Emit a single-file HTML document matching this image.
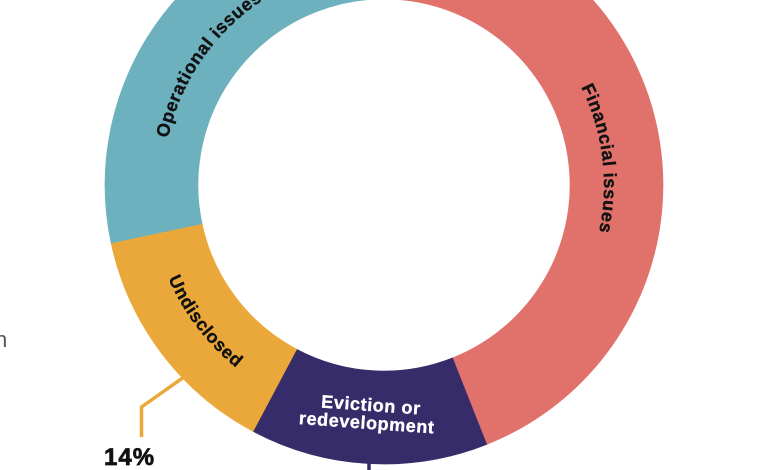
<!DOCTYPE html>
<html>
<head>
<meta charset="utf-8">
<style>
  html, body { margin: 0; padding: 0; background: #ffffff; }
  body { width: 770px; height: 470px; overflow: hidden; }
  svg { display: block; }
  .lbl { font-family: "Liberation Sans", "DejaVu Sans", sans-serif; font-weight: bold; font-size: 18px; letter-spacing: 0.6px; fill: #111111; stroke: #111111; stroke-width: 0.35px; }
</style>
</head>
<body>
<svg width="770" height="470" viewBox="0 0 770 470" xmlns="http://www.w3.org/2000/svg">
  <defs>
    <path id="pOp" d="M 204.08 313.34 A 221 221 0 0 1 439.33 -28.96" fill="none"/>
    <path id="pFin" d="M 433.49 -29.36 A 220 220 0 0 1 483.88 381.02" fill="none"/>
    <path id="pUnd" d="M 167.20 94.31 A 235 235 0 0 0 413.86 418.10" fill="none"/>
  </defs>

  <!-- partial gray text at left edge -->
  <text x="-5" y="347" font-family="Liberation Sans, sans-serif" font-size="22" fill="#555555">n</text>

  <!-- Donut segments -->
  <path d="M 403.46 -93.32 A 279 279 0 0 1 486.71 444.41 L 452.47 357.94 A 186 186 0 0 0 396.97 -0.55 Z" fill="#e0726b" stroke="#e0726b" stroke-width="0.6"/>
  <path d="M 486.71 444.41 A 279 279 0 0 1 253.02 431.34 L 296.68 349.23 A 186 186 0 0 0 452.47 357.94 Z" fill="#362c6a" stroke="#362c6a" stroke-width="0.6"/>
  <path d="M 253.02 431.34 A 279 279 0 0 1 111.10 243.01 L 202.06 223.67 A 186 186 0 0 0 296.68 349.23 Z" fill="#eba83a" stroke="#eba83a" stroke-width="0.6"/>
  <path d="M 111.10 243.01 A 279 279 0 0 1 403.46 -93.32 L 396.97 -0.55 A 186 186 0 0 0 202.06 223.67 Z" fill="#6db1bf" stroke="#6db1bf" stroke-width="0.6"/>

  <!-- Curved labels -->
  <text class="lbl"><textPath href="#pOp" startOffset="50%" text-anchor="middle">Operational issues</textPath></text>
  <text class="lbl"><textPath href="#pFin" startOffset="50%" text-anchor="middle">Financial issues</textPath></text>
  <text class="lbl"><textPath href="#pUnd" startOffset="50%" text-anchor="middle">Undisclosed</textPath></text>

  <!-- Eviction label -->
  <g transform="rotate(4 370 420)" font-family="Liberation Sans, DejaVu Sans, sans-serif" font-weight="bold" font-size="18" fill="#ffffff" stroke="#ffffff" stroke-width="0.35" letter-spacing="0.6" text-anchor="middle">
    <text x="370" y="411">Eviction or</text>
    <text x="367" y="429">redevelopment</text>
  </g>

  <!-- Leader lines -->
  <polyline points="184,377 141.5,407 141.5,437" fill="none" stroke="#eba83a" stroke-width="3.5" stroke-linejoin="miter"/>
  <line x1="369" y1="459" x2="369" y2="472" stroke="#362c6a" stroke-width="3.5"/>

  <!-- Percentage -->
  <text x="104" y="465" font-family="Liberation Sans, DejaVu Sans, sans-serif" font-weight="bold" font-size="24" letter-spacing="1" fill="#111111" stroke="#111111" stroke-width="0.7">14%</text>
</svg>
</body>
</html>
